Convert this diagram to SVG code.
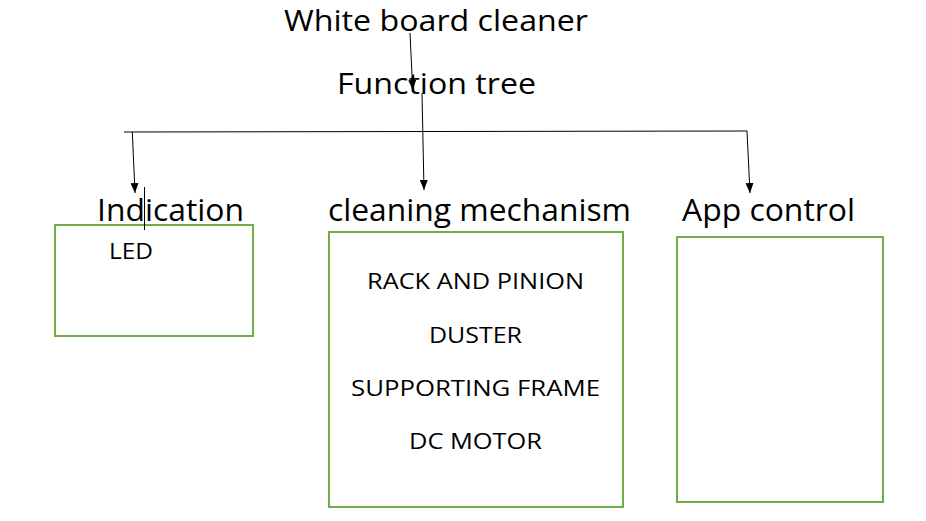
<svg xmlns="http://www.w3.org/2000/svg" width="926" height="521" viewBox="0 0 926 521">
<defs>
<style>
text{font-family:"Open Sans","Liberation Sans",sans-serif;fill:#000}
.t{font-size:29px}
.h{font-size:31px}
.s{font-size:22px}
.box{fill:#fff;stroke:#70AD47;stroke-width:2}
.ln{stroke:#000;stroke-width:1;fill:none}
</style>
<marker id="ah" markerWidth="10" markerHeight="10" refX="10" refY="5" orient="auto" markerUnits="userSpaceOnUse">
<path d="M0,1 L10,5 L0,9 Z" fill="#000"/>
</marker>
</defs>
<rect width="926" height="521" fill="#fff"/>
<g id="title">
<text class="t" x="284" y="31" textLength="304" lengthAdjust="spacingAndGlyphs">White board cleaner</text>
</g>
<g id="function-tree">
<text class="t" x="337" y="94" textLength="199" lengthAdjust="spacingAndGlyphs">Function tree</text>
</g>
<g id="indication">
<text class="h" x="97" y="221" textLength="147" lengthAdjust="spacingAndGlyphs">Indication</text>
<rect class="box" x="55" y="225" width="198" height="111"/>
<text class="s" x="109" y="259" textLength="44" lengthAdjust="spacingAndGlyphs">LED</text>
</g>
<g id="cleaning-mechanism">
<text class="h" x="328" y="221" textLength="303" lengthAdjust="spacingAndGlyphs">cleaning mechanism</text>
<rect class="box" x="329" y="232" width="294" height="275"/>
<text class="s" x="367" y="289" textLength="217" lengthAdjust="spacingAndGlyphs">RACK AND PINION</text>
<text class="s" x="429" y="343" textLength="93" lengthAdjust="spacingAndGlyphs">DUSTER</text>
<text class="s" x="351" y="396" textLength="249" lengthAdjust="spacingAndGlyphs">SUPPORTING FRAME</text>
<text class="s" x="409" y="449" textLength="133" lengthAdjust="spacingAndGlyphs">DC MOTOR</text>
</g>
<g id="app-control">
<text class="h" x="682" y="221" textLength="173" lengthAdjust="spacingAndGlyphs">App control</text>
<rect class="box" x="677" y="237" width="206" height="265"/>
</g>
<g id="connectors">
<line class="ln" x1="410" y1="33" x2="412.7" y2="90" marker-end="url(#ah)"/>
<line class="ln" x1="422" y1="93" x2="424" y2="190" marker-end="url(#ah)"/>
<line class="ln" x1="124" y1="132" x2="747" y2="131"/>
<line class="ln" x1="132.3" y1="132" x2="135" y2="193" marker-end="url(#ah)"/>
<line class="ln" x1="747" y1="131" x2="750" y2="193" marker-end="url(#ah)"/>
<line class="ln" x1="144.5" y1="187" x2="144.5" y2="230"/>
</g>
</svg>
